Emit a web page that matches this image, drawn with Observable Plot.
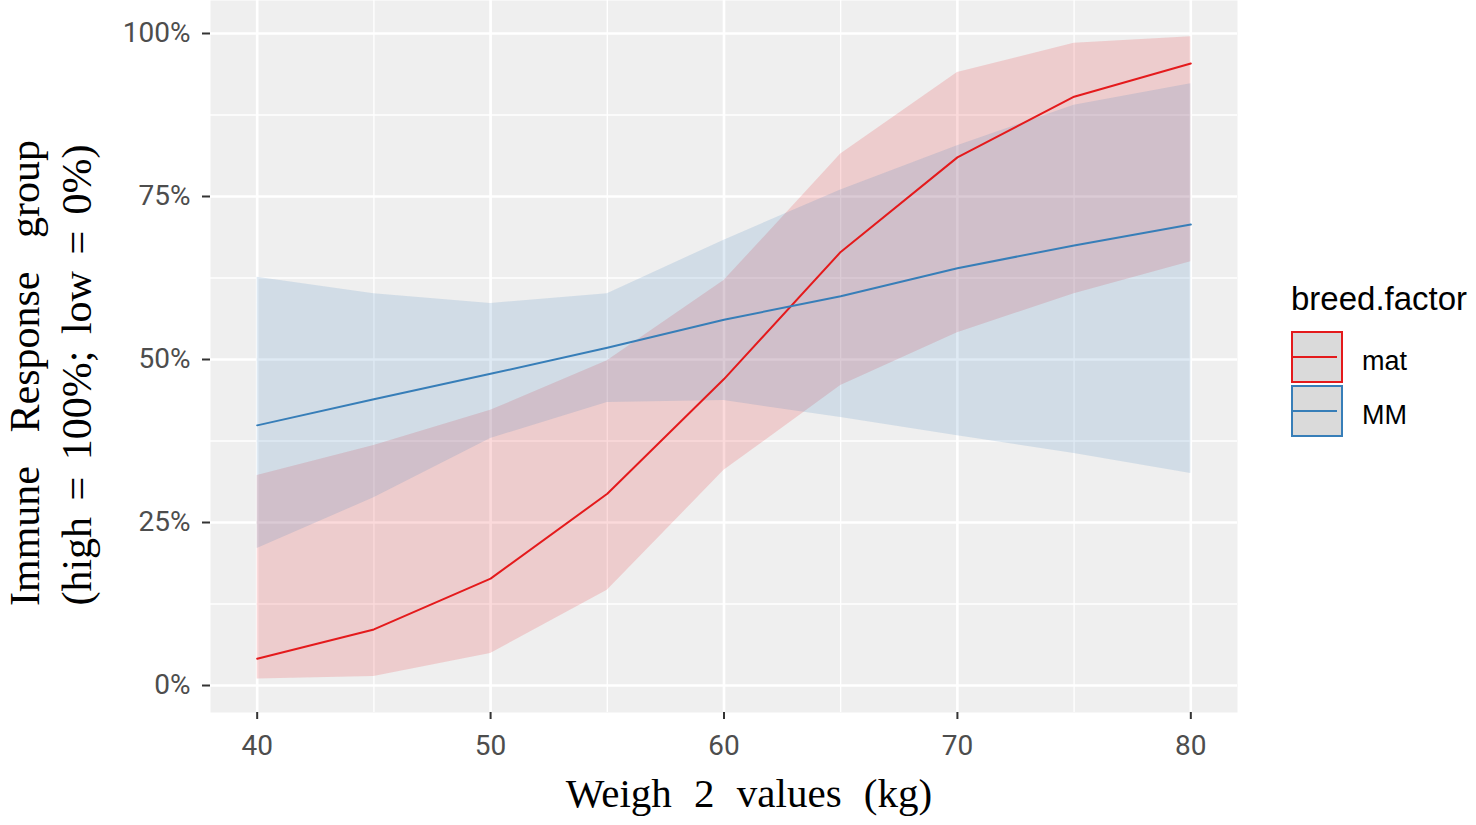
<!DOCTYPE html>
<html>
<head>
<meta charset="utf-8">
<script src="https://cdn.jsdelivr.net/npm/d3@7"></script>
<script src="https://cdn.jsdelivr.net/npm/@observablehq/plot@0.6"></script>
<style>
  html, body { margin: 0; padding: 0; background: #ffffff; }
  #chart { position: relative; width: 1476px; height: 825px; }
</style>
</head>
<body>
<div id="chart"></div>
<script>
// ---- data ----
const weights = [40, 45, 50, 55, 60, 65, 70, 75, 80];

const matFit  = [0.041, 0.086, 0.164, 0.294, 0.470, 0.665, 0.810, 0.903, 0.954];
const matLow  = [0.010, 0.014, 0.049, 0.146, 0.330, 0.460, 0.541, 0.601, 0.650];
const matHigh = [0.322, 0.368, 0.422, 0.498, 0.621, 0.815, 0.940, 0.985, 0.995];

const mmFit  = [0.399, 0.439, 0.478, 0.518, 0.561, 0.597, 0.640, 0.675, 0.707];
const mmLow  = [0.210, 0.288, 0.379, 0.434, 0.437, 0.411, 0.383, 0.356, 0.325];
const mmHigh = [0.626, 0.601, 0.586, 0.601, 0.683, 0.760, 0.828, 0.890, 0.923];

const breeds = ["mat", "MM"];
const breedColors = ["#E41A1C", "#377EB8"];

const xMajor = [40, 50, 60, 70, 80];
const xMinor = [45, 55, 65, 75];
const yMajor = [0, 0.25, 0.5, 0.75, 1];
const yMinor = [0.125, 0.375, 0.625, 0.875];

const xTitle = "Weigh 2 values (kg)";
const yTitle1 = "Immune Response group";
const yTitle2 = "(high = 100%; low = 0%)";
const legendTitle = "breed.factor";

// ---- build tidy rows ----
const rows = [];
weights.forEach((w, i) => {
  rows.push({breed: "mat", w, fit: matFit[i], low: matLow[i], high: matHigh[i]});
});
weights.forEach((w, i) => {
  rows.push({breed: "MM", w, fit: mmFit[i], low: mmLow[i], high: mmHigh[i]});
});

const W = 1476, H = 825;
const mL = 210, mR = 239, mT = 0, mB = 113;

const plot = Plot.plot({
  width: W,
  height: H,
  marginLeft: mL,
  marginRight: mR,
  marginTop: mT,
  marginBottom: mB,
  style: {fontFamily: "Roboto, 'Liberation Sans', sans-serif", fontSize: "28px", background: "transparent", color: "#4D4D4D"},
  x: {domain: [38, 82]},
  y: {domain: [-0.0414, 1.0506]},
  color: {domain: breeds, range: breedColors},
  marks: [
    Plot.frame({fill: "#EFEFEF", stroke: null}),
    Plot.ruleY(yMinor, {stroke: "#ffffff", strokeWidth: 1.3}),
    Plot.ruleX(xMinor, {stroke: "#ffffff", strokeWidth: 1.3}),
    Plot.ruleY(yMajor, {stroke: "#ffffff", strokeWidth: 2.6}),
    Plot.ruleX(xMajor, {stroke: "#ffffff", strokeWidth: 2.6}),
    Plot.areaY(rows, {x: "w", y1: "low", y2: "high", z: "breed", fill: "breed", fillOpacity: 0.16}),
    Plot.lineY(rows, {x: "w", y: "fit", z: "breed", stroke: "breed", strokeWidth: 2}),
    Plot.axisY({ticks: yMajor, tickFormat: d3.format(".0%"), tickSize: 8, tickPadding: 12, stroke: "#333333", strokeWidth: 2, fill: "#4D4D4D", label: null}),
    Plot.axisX({ticks: xMajor, tickFormat: d => String(d), tickSize: 7, tickPadding: 16, stroke: "#333333", strokeWidth: 2, fill: "#4D4D4D", label: null})
  ]
});

document.getElementById("chart").appendChild(plot);

// ---- axis titles and legend (drawn into the same SVG) ----
const svg = d3.select(plot);
const serif = "'Liberation Serif', 'DejaVu Serif', serif";
const sans = "'Liberation Sans', Arial, sans-serif";

svg.append("text")
  .attr("x", 749)
  .attr("y", 807)
  .attr("text-anchor", "middle")
  .attr("fill", "#000")
  .style("font-family", serif)
  .style("font-size", "41px")
  .style("word-spacing", "12px")
  .text(xTitle);

const yCenter = 373;
svg.append("text")
  .attr("transform", `translate(39,${yCenter}) rotate(-90)`)
  .attr("text-anchor", "middle")
  .attr("fill", "#000")
  .style("font-family", serif)
  .style("font-size", "42px")
  .style("word-spacing", "23px")
  .text(yTitle1);
svg.append("text")
  .attr("transform", `translate(91,${yCenter + 2}) rotate(-90)`)
  .attr("text-anchor", "middle")
  .attr("fill", "#000")
  .style("font-family", serif)
  .style("font-size", "42px")
  .style("word-spacing", "6px")
  .text(yTitle2);

const lg = svg.append("g").attr("text-anchor", "start");
lg.append("text")
  .attr("x", 1291)
  .attr("y", 310)
  .attr("text-anchor", "start")
  .attr("fill", "#000")
  .style("font-family", sans)
  .style("font-size", "33px")
  .text(legendTitle);

breeds.forEach((b, i) => {
  const top = 332 + i * 54;
  lg.append("rect")
    .attr("x", 1292).attr("y", top)
    .attr("width", 50).attr("height", 50)
    .attr("fill", "#DADADA")
    .attr("stroke", breedColors[i])
    .attr("stroke-width", 2);
  lg.append("line")
    .attr("x1", 1293).attr("x2", 1337)
    .attr("y1", top + 25).attr("y2", top + 25)
    .attr("stroke", breedColors[i])
    .attr("stroke-width", 2);
  lg.append("text")
    .attr("x", 1362)
    .attr("y", top + 38)
    .attr("text-anchor", "start")
    .attr("fill", "#000")
    .style("font-family", sans)
    .style("font-size", "27px")
    .text(b);
});
</script>
</body>
</html>
